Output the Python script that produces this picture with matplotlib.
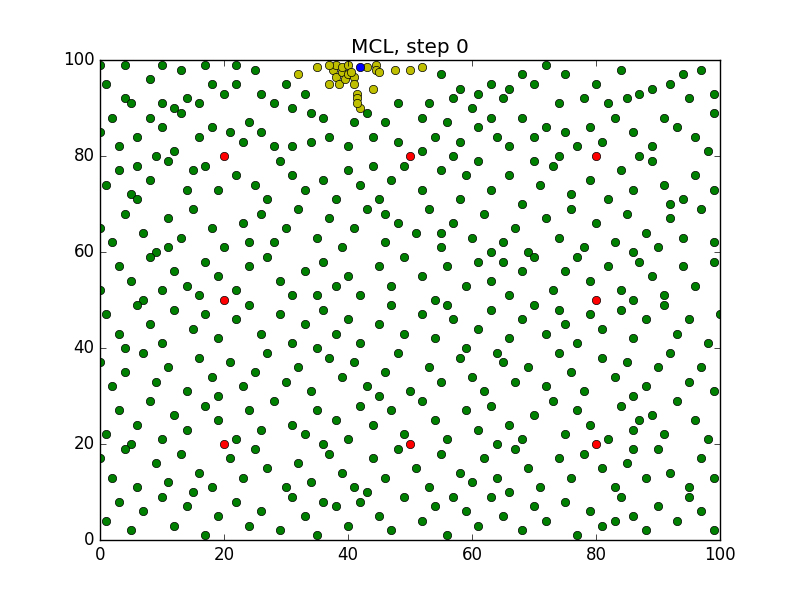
import matplotlib
matplotlib.use("Agg")
import matplotlib.pyplot as plt

plt.style.use("classic")

# particles (approximate positions)
particles = [
    (0,99),(4,99),(10,99),(13,98),(17,99),(22,99),(25,98),(30,95),(33,93),(4,92),(5,91),(10,91),(12,90),(14,92),(16,91),(18,95),(20,93),(26,93),(28,91),(31,90),(55,97),(58,94),(61,93),(60,90),(57,92),(63,95),(65,92),(68,97),(70,95),(72,99),(75,97),(78,92),(80,95),(84,98),(87,93),(89,94),(92,95),(95,92),(97,98),(99,93),(66,94),(53,91),(48,91),(85,92),(1,95),(74,91),(82,91),(94,97),(8,96),(22,95),
    (0,85),(3,82),(6,84),(2,88),(8,88),(10,86),(12,81),(16,84),(18,86),(21,85),(23,83),(24,87),(26,85),(28,82),(31,82),(34,83),(36,88),(37,84),(40,82),(41,87),(44,84),(46,87),(48,83),(52,88),(54,84),(56,87),(58,83),(61,86),(64,84),(66,82),(68,88),(70,84),(72,86),(75,85),(77,82),(79,86),(81,83),(83,88),(86,85),(89,82),(91,88),(93,86),(96,84),(98,81),(52,81),(57,80),(87,80),(13,89),(34,89),(43,89),(63,88),(99,89),(74,80),(9,80),(6,78),
    (1,74),(3,77),(5,72),(8,75),(11,79),(14,73),(17,78),(19,73),(22,76),(25,74),(27,71),(29,79),(31,76),(33,73),(36,75),(38,71),(40,77),(42,74),(45,71),(47,75),(49,78),(52,73),(55,77),(58,71),(61,79),(63,73),(66,76),(68,70),(71,74),(73,78),(76,72),(79,75),(82,71),(84,77),(86,73),(89,79),(91,74),(94,71),(96,76),(99,73),(15,77),(44,78),(59,76),(70,79),(92,70),(6,71),
    (0,65),(2,62),(4,68),(7,64),(9,60),(11,67),(13,63),(15,69),(18,65),(20,61),(23,66),(26,68),(28,62),(30,65),(32,69),(35,63),(37,67),(39,61),(41,65),(43,69),(46,62),(48,66),(51,64),(53,69),(55,61),(57,66),(60,63),(62,68),(65,62),(67,65),(69,60),(72,67),(74,63),(76,69),(78,61),(80,66),(83,62),(85,68),(88,64),(90,61),(92,67),(94,63),(97,69),(99,62),(24,62),(46,68),(63,60),(86,60),(11,61),(55,64),
    (0,52),(3,57),(5,54),(8,59),(10,52),(12,56),(14,53),(17,58),(19,55),(22,52),(24,57),(27,59),(29,54),(31,51),(33,56),(36,58),(38,53),(40,55),(42,51),(45,57),(47,53),(49,59),(52,55),(54,50),(56,57),(59,53),(61,58),(63,54),(66,51),(68,56),(70,59),(73,52),(75,56),(77,59),(79,54),(82,57),(84,52),(87,58),(89,55),(91,51),(94,57),(96,53),(99,58),(7,50),(35,51),(65,58),(86,50),(16,51),
    (1,47),(3,43),(6,49),(8,45),(10,41),(12,48),(15,44),(17,47),(19,42),(22,46),(24,49),(26,43),(29,47),(31,41),(33,45),(36,48),(38,43),(40,46),(42,41),(45,45),(47,49),(49,43),(52,47),(54,42),(57,46),(59,40),(61,44),(63,48),(66,42),(68,46),(70,49),(72,43),(75,45),(77,41),(79,47),(81,44),(84,48),(86,42),(88,46),(91,49),(93,43),(95,46),(98,41),(4,40),(35,40),(56,49),(74,48),(100,47),
    (0,37),(2,32),(4,35),(7,39),(9,33),(11,36),(14,31),(16,38),(18,34),(21,37),(23,32),(25,35),(27,39),(30,33),(32,36),(34,31),(37,38),(39,34),(41,37),(43,32),(46,35),(48,39),(50,31),(53,36),(55,33),(58,38),(60,34),(62,31),(65,37),(67,33),(69,36),(72,32),(74,39),(76,35),(78,31),(81,38),(83,34),(85,37),(88,32),(90,36),(92,39),(95,33),(97,36),(99,31),(19,30),(45,30),(64,39),(86,30),
    (1,22),(3,27),(6,24),(8,29),(10,21),(12,26),(14,23),(17,28),(19,25),(22,21),(24,27),(26,23),(28,29),(31,24),(33,22),(35,27),(38,25),(40,21),(42,28),(44,24),(47,27),(49,22),(52,29),(54,25),(56,21),(59,27),(61,23),(63,28),(66,24),(68,21),(70,26),(73,29),(75,22),(77,27),(79,24),(82,21),(84,28),(86,23),(89,26),(91,22),(93,29),(96,25),(98,21),(5,20),(36,20),(64,20),(87,25),
    (0,17),(2,13),(4,19),(6,11),(9,16),(11,12),(13,18),(16,14),(18,11),(21,17),(23,13),(25,19),(27,15),(30,11),(32,16),(34,12),(37,18),(39,14),(41,11),(44,17),(46,13),(48,19),(51,15),(53,11),(55,18),(58,14),(60,12),(62,17),(64,13),(67,19),(69,15),(71,11),(74,17),(76,13),(78,18),(81,15),(83,11),(85,16),(88,13),(90,19),(92,14),(95,11),(97,17),(99,13),(15,10),(43,10),(66,10),(86,19),
    (1,4),(3,8),(5,2),(7,6),(10,9),(12,3),(14,7),(17,1),(19,5),(22,8),(24,3),(26,6),(29,2),(31,9),(33,5),(35,1),(38,7),(40,3),(42,8),(45,5),(47,2),(49,9),(52,4),(54,7),(56,1),(59,6),(61,3),(63,9),(65,5),(68,2),(70,7),(72,4),(75,8),(77,1),(79,6),(81,3),(84,9),(86,5),(88,2),(90,7),(93,4),(95,9),(97,6),(99,2),(36,8),(57,9),(83,4),
]

# estimado (amarillo)
estimate = [
    (32,97),(35,98.5),(37,95),(37.5,98),(38,99),(38,96.5),(38.5,95),(39,97.5),(39,98.5),(39.5,96),
    (40,97),(40,99),(41,96.5),(41,95),(41.5,93),(41.5,92),(42,90),(41.5,91),(44.5,99),(44.5,98),
    (45,97.5),(44,94),(47.5,98),(50,98),(52,98.5),(43,98.5),(40.5,97.5),(37,99),
]

landmarks_x = [20, 50, 80, 20, 80, 20, 50, 80]
landmarks_y = [80, 80, 80, 50, 50, 20, 20, 20]

robot_x = [42]
robot_y = [98.5]

fig, ax = plt.subplots(figsize=(8, 6), dpi=100)
fig.patch.set_facecolor("white")

px, py = zip(*particles)
ax.plot(px, py, "go", markersize=6)
ex, ey = zip(*estimate)
ax.plot(ex, ey, "yo", markersize=6)
ax.plot(landmarks_x, landmarks_y, "ro", markersize=6)
ax.plot(robot_x, robot_y, "bo", markersize=6)

ax.set_xlim(0, 100)
ax.set_ylim(0, 100)
ax.set_title("MCL, step 0")

plt.savefig("out.png", dpi=100, facecolor="white")
